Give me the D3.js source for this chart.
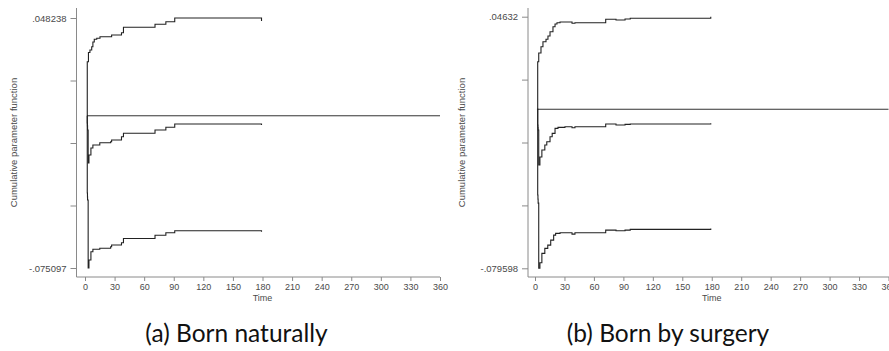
<!DOCTYPE html>
<html><head><meta charset="utf-8">
<script src="https://cdn.jsdelivr.net/npm/d3@7"></script>
<style>body{margin:0;background:#fff} svg{display:block}</style>
</head><body>
<svg id="chart" width="889" height="351"></svg>
<script>
// ---------- data ----------
const timeTicks = [0, 30, 60, 90, 120, 150, 180, 210, 240, 270, 300, 330, 360];
const xTitle = "Time";
const yTitle = "Cumulative parameter function";

const captionA = "(a) Born naturally";
const yRangeA = [-0.075097, 0.048238];
const yLabelsA = ["-.075097", ".048238"];
const upperA = [[2.2,0],[2.3,0.02668],[3.5,0.03122],[5,0.03245],[6.8,0.03408],[8,0.03640],[9.4,0.03773],[11.9,0.03822],[15.2,0.03901],[27,0.03985],[37,0.04099],[39,0.04365],[71,0.04513],[82,0.04641],[91,0.048238],[179,0.0468]];
const estA = [[2.2,0],[2.3,-0.00356],[2.5,-0.0050],[2.6,-0.00702],[3.2,-0.02330],[4,-0.01935],[6,-0.01590],[8,-0.01442],[15,-0.01328],[26,-0.01279],[27,-0.01195],[37,-0.01032],[39,-0.00864],[71,-0.00702],[82,-0.00568],[91,-0.00406],[179,-0.00454]];
const lowerA = [[2.2,0],[2.3,-0.03810],[2.5,-0.0400],[2.6,-0.04155],[3.2,-0.075097],[4,-0.07115],[6,-0.06706],[8,-0.06587],[15,-0.06538],[26,-0.06459],[27,-0.06375],[37,-0.06262],[39,-0.06054],[71,-0.05897],[82,-0.05768],[91,-0.05670],[179,-0.05718]];

const captionB = "(b) Born by surgery";
const yRangeB = [-0.079598, 0.04632];
const yLabelsB = ["-.079598", ".04632"];
const upperB = [[2.5,0],[2.75,0.02379],[3.8,0.02815],[6.1,0.03130],[8.1,0.03380],[11.2,0.03501],[13.2,0.03666],[15.3,0.03881],[18.3,0.04131],[20.4,0.04267],[22.4,0.04332],[25.5,0.04367],[37.7,0.04302],[40.7,0.04332],[72,0.04502],[82.5,0.04467],[91.7,0.04517],[97,0.04552],[179,0.04632]];
const estB = [[2.5,0],[2.75,-0.00790],[3.0,-0.0092],[3.2,-0.01041],[3.8,-0.02793],[5,-0.02392],[7,-0.02042],[10,-0.01792],[12,-0.01626],[15.3,-0.01376],[17.5,-0.01206],[20.4,-0.00955],[23.4,-0.00905],[30.5,-0.00875],[37.7,-0.00925],[40.7,-0.00875],[72,-0.00740],[82.5,-0.00790],[91.7,-0.00755],[97,-0.00740],[179,-0.0070]];
const lowerB = [[2.5,0],[2.75,-0.04295],[3.0,-0.0450],[3.2,-0.04696],[3.8,-0.079598],[5,-0.07685],[7,-0.07214],[10,-0.06964],[13,-0.06798],[16,-0.06548],[19,-0.06298],[21,-0.06213],[25.5,-0.06183],[37.7,-0.06248],[40.7,-0.06183],[72,-0.06047],[82.5,-0.06082],[91.7,-0.06047],[97,-0.06012],[179,-0.0597]];

const zeroStart = 2;

// ---------- layout ----------
const panels = [
  {caption: captionA, yRange: yRangeA, yLabels: yLabelsA, series: [upperA, estA, lowerA],
   axisX: 76.5, xr: [85, 440], yr: [268, 18], axisTop: 8, axisY: 277, xAxisEnd: 440,
   titleX: 13.5, captionX: 236.5},
  {caption: captionB, yRange: yRangeB, yLabels: yLabelsB, series: [upperB, estB, lowerB],
   axisX: 528, xr: [535, 888.5], yr: [268.3, 16.7], axisTop: 8, axisY: 277, xAxisEnd: 889,
   titleX: 461.5, captionX: 668}
];

const svg = d3.select("#chart");
const axisColor = "#8a8a8a";
const textColor = "#4a4a4a";
const tickFont = "Liberation Sans, Arial, sans-serif";

panels.forEach(p => {
  const g = svg.append("g");
  const x = d3.scaleLinear().domain([0, 360]).range(p.xr);
  const y = d3.scaleLinear().domain(p.yRange).range(p.yr);

  // axis lines
  g.append("line").attr("x1", p.axisX).attr("x2", p.axisX)
    .attr("y1", p.axisTop).attr("y2", p.axisY)
    .attr("stroke", axisColor).attr("stroke-width", 1);
  g.append("line").attr("x1", p.axisX).attr("x2", p.xAxisEnd)
    .attr("y1", p.axisY).attr("y2", p.axisY)
    .attr("stroke", axisColor).attr("stroke-width", 1);

  // x axis ticks
  const xa = g.append("g").attr("transform", `translate(0,${p.axisY})`)
    .call(d3.axisBottom(x).tickValues(timeTicks).tickSize(4).tickSizeOuter(0).tickPadding(3));
  xa.select(".domain").remove();
  xa.selectAll(".tick line").attr("stroke", axisColor);
  xa.selectAll(".tick text").attr("fill", textColor).attr("font-family", tickFont).attr("font-size", 9);

  // y axis ticks
  const [lo, hi] = p.yRange;
  const yTicks = d3.range(5).map(i => lo + (hi - lo) * i / 4);
  const ya = g.append("g").attr("transform", `translate(${p.axisX},0)`)
    .call(d3.axisLeft(y).tickValues(yTicks).tickSize(6).tickSizeOuter(0).tickPadding(4)
      .tickFormat((d, i) => i === 0 ? p.yLabels[0] : (i === 4 ? p.yLabels[1] : "")));
  ya.select(".domain").remove();
  ya.selectAll(".tick line").attr("stroke", axisColor);
  ya.selectAll(".tick text").attr("fill", textColor).attr("font-family", tickFont).attr("font-size", 9.5);

  // titles
  g.append("text").attr("x", x(180)).attr("y", 301).attr("text-anchor", "middle")
    .attr("font-family", tickFont).attr("font-size", 9).attr("fill", textColor).text(xTitle);
  g.append("text").attr("transform", `translate(${p.titleX},142.5) rotate(-90)`)
    .attr("text-anchor", "middle").attr("dominant-baseline", "central")
    .attr("font-family", tickFont).attr("font-size", 9.5).attr("fill", textColor).text(yTitle);

  // zero reference line
  g.append("line").attr("x1", x(zeroStart)).attr("x2", x(360))
    .attr("y1", y(0)).attr("y2", y(0)).attr("stroke", "#333").attr("stroke-width", 1);

  // step curves
  const line = d3.line().x(d => x(d[0])).y(d => y(d[1])).curve(d3.curveStepAfter);
  p.series.forEach(s => {
    g.append("path").attr("d", line(s)).attr("fill", "none")
      .attr("stroke", "#222").attr("stroke-width", 1.1);
  });

  // caption
  g.append("text").attr("x", p.captionX).attr("y", 341.5).attr("text-anchor", "middle")
    .attr("font-family", "Lato, 'Open Sans', sans-serif").attr("font-size", 24.5)
    .attr("fill", "#111").text(p.caption);
});
</script>
</body></html>
